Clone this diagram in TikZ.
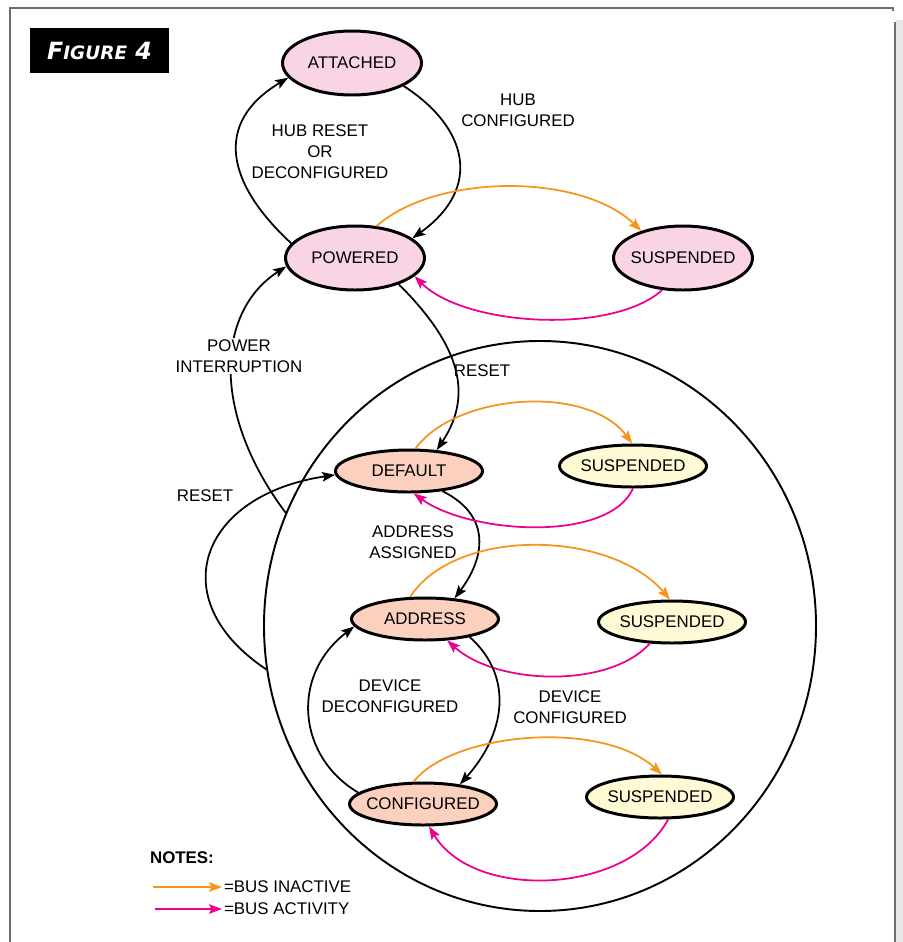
\documentclass[tikz,border=0pt]{standalone}
\usepackage{fontspec}
\setmainfont{Liberation Sans}
\newfontfamily\tagfont{DejaVu Sans}
\usetikzlibrary{shapes.geometric, arrows.meta}
\definecolor{hubpink}{RGB}{249,212,229}
\definecolor{devsalmon}{RGB}{251,208,190}
\definecolor{suspyellow}{RGB}{254,250,214}
\definecolor{busorange}{RGB}{247,148,29}
\definecolor{busmagenta}{RGB}{236,0,140}
\definecolor{framegray}{RGB}{109,110,113}
\definecolor{bandgray}{RGB}{230,231,232}
\tikzset{
  state/.style = {ellipse, draw=black, line width=1.7pt, inner xsep=-3mm, inner ysep=0pt, font=\fontsize{9.6}{12}\selectfont},
  hubstate/.style = {state, fill=hubpink, minimum width=27.8mm, minimum height=12.8mm},
  devstate/.style = {state, fill=devsalmon, minimum width=29.4mm, minimum height=8.4mm},
  suspstate/.style = {state, fill=suspyellow, minimum width=29.4mm, minimum height=8.4mm},
  line/.style = {-{Stealth[length=2.6mm, width=1.9mm, inset=0.5mm]}, line width=1pt},
  idle/.style = {line, draw=busorange},
  active/.style = {line, draw=busmagenta},
  event/.style = {align=center, font=\fontsize{9.6}{12}\selectfont, inner sep=1pt}
}
\begin{document}
\begin{tikzpicture}[x=0.2mm, y=-0.2mm]
\useasboundingbox (0,0) rectangle (903,942);

% Frame
\draw[framegray, line width=1.1pt] (10,942) -- (10,8) -- (893,8) -- (893,11);
\fill[bandgray] (896,20) rectangle (903,942);
\draw[framegray, line width=1.1pt] (895,22) -- (895,942);

\node[fill=black, text=white, minimum width=27.8mm, minimum height=9mm, inner sep=0pt] (figtag) at (99.5,50.5)
  {\tagfont\bfseries\itshape\fontsize{13.5}{13.5}\selectfont F{\fontsize{10.5}{10.5}\selectfont IGURE} 4};

% Device states (big loop)
\node[ellipse, draw=black, line width=1.1pt, minimum width=110.4mm, minimum height=114mm, inner sep=0pt] (device) at (540,626) {};

% Hub states
\node[hubstate] (attached) at (352,63) {ATTACHED};
\node[hubstate] (powered) at (355,258) {POWERED};
\node[hubstate] (hubsusp) at (683,258) {SUSPENDED};

% Inner states
\node[devstate] (default) at (409,471) {DEFAULT};
\node[suspstate] (defsusp) at (633,466) {SUSPENDED};
\node[devstate] (address) at (425,619) {ADDRESS};
\node[suspstate] (addrsusp) at (672,622) {SUSPENDED};
\node[devstate] (configured) at (423,804) {CONFIGURED};
\node[suspstate] (confsusp) at (660,797) {SUSPENDED};

% Transitions
\draw[line] (powered.167) .. controls +(-65,-60) and +(-75,45) .. (attached.193);
\draw[line] (attached.336) .. controls +(65,42) and +(70,-50) .. (powered.19);
\draw[idle] (powered.56) .. controls +(60,-53) and +(-60,-58) .. (hubsusp.147);
\draw[active] (hubsusp.237) .. controls +(-50,45) and +(50,50) .. (powered.343);
\draw[line] (powered.329) .. controls +(55,55) and +(40,-60) .. (default.37);
\draw[line] (device.156) .. controls +(-75,-100) and +(-70,45) .. (powered.187);
\draw[line] (device.189) .. controls +(-105,-70) and +(-135,20) .. (default.183);

\draw[line] (default.329) .. controls +(50,25) and +(30,-40) .. (address.35);
\draw[idle] (default.74) .. controls +(40,-55) and +(-45,-60) .. (defsusp.92);
\draw[active] (defsusp.270) .. controls +(-25,55) and +(55,40) .. (default.282);

\draw[idle] (address.124) .. controls +(45,-70) and +(-60,-70) .. (addrsusp.95);
\draw[active] (addrsusp.224) .. controls +(-40,45) and +(50,45) .. (address.316);
\draw[line] (address.338) .. controls +(45,40) and +(45,-50) .. (configured.28);
\draw[line] (configured.170) .. controls +(-60,-35) and +(-65,50) .. (address.186);

\draw[idle] (configured.113) .. controls +(40,-50) and +(-60,-55) .. (confsusp.85);
\draw[active] (confsusp.290) .. controls +(-40,75) and +(45,75) .. (configured.285);

% Labels
\node[event] (hubresetlbl) at (320,152) {HUB RESET\\OR\\DECONFIGURED};
\node[event] (hubconflbl) at (518,110) {HUB\\CONFIGURED};
\node[event, fill=white] (powerlbl) at (239,356) {POWER\\INTERRUPTION};
\node[event] (resetlbl) at (482,371) {RESET};
\node[event] (resetleftlbl) at (205,496) {RESET};
\node[event] (assignedlbl) at (413,542) {ADDRESS\\ASSIGNED};
\node[event] (deconflbl) at (390,696) {DEVICE\\DECONFIGURED};
\node[event] (conflbl) at (570,707) {DEVICE\\CONFIGURED};

% Notes
\node[event, font=\fontsize{9.6}{12}\selectfont\bfseries, anchor=west] (notes) at (148,858) {NOTES:};
\node[event, anchor=west] (inactive) at (222,887) {=BUS INACTIVE};
\node[event, anchor=west] (activity) at (222,909) {=BUS ACTIVITY};
\coordinate (inactivestart) at (153,887);
\coordinate (activitystart) at (155,909);
\draw[idle] (inactivestart) -- (inactive.west);
\draw[active] (activitystart) -- (activity.west);

\end{tikzpicture}
\end{document}
